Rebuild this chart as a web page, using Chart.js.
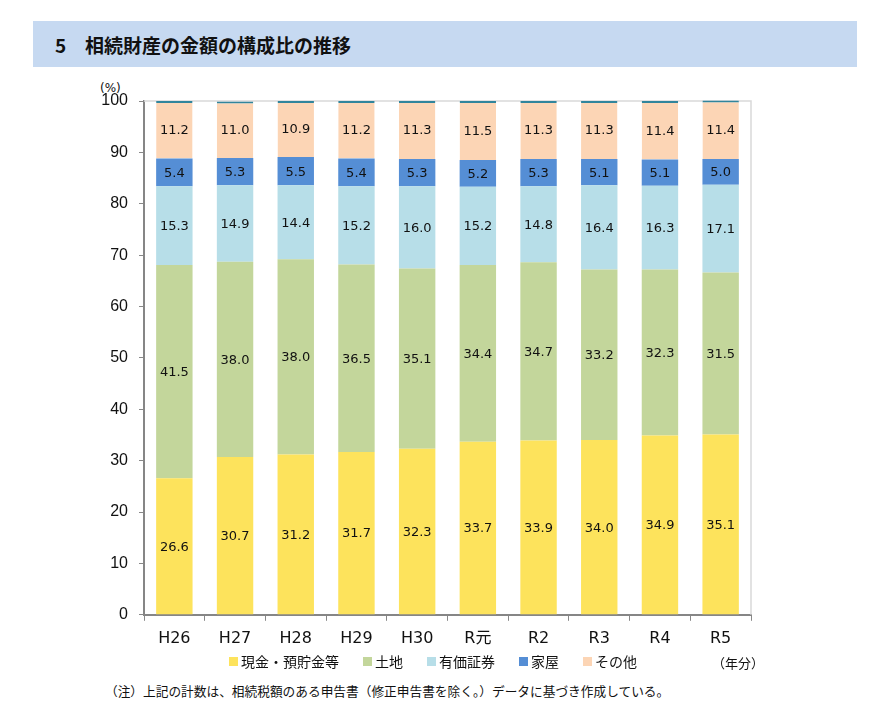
<!DOCTYPE html>
<html lang="ja">
<head>
<meta charset="utf-8">
<title>相続財産の金額の構成比の推移</title>
<script src="https://cdn.jsdelivr.net/npm/chart.js@4.4.1/dist/chart.umd.min.js"></script>
<style>
  html, body { margin: 0; padding: 0; background: #fff; }
  body { width: 871px; height: 725px; position: relative; overflow: hidden; font-family: "Noto Sans CJK JP", sans-serif; color: #111; }
  .bandeau { position: absolute; left: 33px; top: 21px; width: 824px; height: 46px; background: #c6d9f1; }
  .bandeau span { position: absolute; top: 10px; font-size: 19px; font-weight: bold; }
  #cadre { position: absolute; left: 0; top: 0; width: 871px; height: 660px; }
  .unite { position: absolute; left: 100px; top: 81px; font-size: 12px; font-family: "DejaVu Sans", sans-serif; }
  #legende { position: absolute; left: 229px; top: 651px; display: flex; font-size: 14px; line-height: 20px; }
  #legende div { display: flex; align-items: center; margin-right: 24px; }
  #legende i { display: inline-block; width: 9px; height: 9px; margin-right: 3px; }
  .annee { position: absolute; left: 712px; top: 653px; font-size: 13px; }
  .note { position: absolute; left: 105px; top: 681px; font-size: 12.7px; }
</style>
</head>
<body>
<div class="bandeau"><span style="left:22px">5</span><span style="left:52px">相続財産の金額の構成比の推移</span></div>
<div class="unite">(%)</div>
<div id="cadre"><canvas id="graphique"></canvas></div>
<div id="legende"></div>
<div class="annee">（年分）</div>
<div class="note">（注）上記の計数は、相続税額のある申告書（修正申告書を除く。）データに基づき作成している。</div>

<script>
// années (axe horizontal)
const annees = ["H26", "H27", "H28", "H29", "H30", "R元", "R2", "R3", "R4", "R5"];

// composition en %, du bas vers le haut de chaque barre
const especes = [26.6, 30.7, 31.2, 31.7, 32.3, 33.7, 33.9, 34.0, 34.9, 35.1];
const terrains = [41.5, 38.0, 38.0, 36.5, 35.1, 34.4, 34.7, 33.2, 32.3, 31.5];
const titres = [15.3, 14.9, 14.4, 15.2, 16.0, 15.2, 14.8, 16.4, 16.3, 17.1];
const maisons = [5.4, 5.3, 5.5, 5.4, 5.3, 5.2, 5.3, 5.1, 5.1, 5.0];
const autres = [11.2, 11.0, 10.9, 11.2, 11.3, 11.5, 11.3, 11.3, 11.4, 11.4];

const nomsSeries = ["現金・預貯金等", "土地", "有価証券", "家屋", "その他"];
const couleurs = ["#fde35c", "#c3d69b", "#b7dee8", "#558ed5", "#fcd5b5"];

// graduations de l'axe vertical
const graduations = [0, 10, 20, 30, 40, 50, 60, 70, 80, 90, 100];

Chart.defaults.font.family = '"Noto Sans CJK JP", sans-serif';
Chart.defaults.color = "#111";

// valeurs écrites au milieu de chaque segment
const etiquettesValeurs = {
  id: "etiquettesValeurs",
  afterDatasetsDraw(chart) {
    const ctx = chart.ctx;
    ctx.save();
    ctx.font = '13px "DejaVu Sans"';
    ctx.fillStyle = "#111";
    ctx.textAlign = "center";
    ctx.textBaseline = "middle";
    chart.data.datasets.forEach((ds, i) => {
      chart.getDatasetMeta(i).data.forEach((barre, j) => {
        const p = barre.getProps(["x", "y", "base"], true);
        ctx.fillText(ds.data[j].toFixed(1), p.x, (p.y + p.base) / 2 + 1);
      });
    });
    ctx.restore();
  }
};

// bord fin en haut et à droite de la zone de tracé
const bordZone = {
  id: "bordZone",
  beforeDatasetsDraw(chart) {
    const { ctx, chartArea: a } = chart;
    ctx.save();
    ctx.strokeStyle = "#d9d9d9";
    ctx.lineWidth = 1.5;
    ctx.beginPath();
    ctx.moveTo(a.left, a.top);
    ctx.lineTo(a.right, a.top);
    ctx.lineTo(a.right, a.bottom);
    ctx.stroke();
    ctx.restore();
  }
};

// légende en HTML, construite à partir des items du graphique
const legendeHtml = {
  id: "legendeHtml",
  afterUpdate(chart) {
    const boite = document.querySelector("#legende");
    boite.innerHTML = "";
    const items = chart.options.plugins.legend.labels.generateLabels(chart);
    items.forEach(item => {
      const el = document.createElement("div");
      el.innerHTML = `<i style="background:${item.fillStyle}"></i>${item.text}`;
      boite.appendChild(el);
    });
  }
};

const series = [especes, terrains, titres, maisons, autres];
const datasets = series.map((valeurs, i) => ({
  label: nomsSeries[i],
  data: valeurs,
  backgroundColor: couleurs[i],
  borderWidth: i === 4 ? { top: 2, right: 0, bottom: 0, left: 0 } : 0,
  borderColor: i === 4 ? "#31859c" : couleurs[i],
  borderSkipped: false,
  clip: false,
  categoryPercentage: 1,
  barPercentage: 0.6
}));

const config = {
  type: "bar",
  data: { labels: annees, datasets: datasets },
  options: {
    responsive: true,
    maintainAspectRatio: false,
    animation: false,
    layout: { padding: { left: 90, right: 120, top: 101, bottom: 4 } },
    scales: {
      x: {
        stacked: true,
        grid: { offset: true, drawOnChartArea: false, tickLength: 6, color: "#888" },
        border: { color: "#868686", width: 2 },
        ticks: { font: { family: '"DejaVu Sans", "Noto Sans CJK JP"', size: 16 }, padding: 8, color: "#111" }
      },
      y: {
        stacked: true,
        min: 0,
        max: 100,
        afterBuildTicks: (axe) => { axe.ticks = graduations.map(v => ({ value: v })); },
        afterFit: (axe) => { axe.width = 54; },
        grid: { drawOnChartArea: false, tickLength: 5, color: "#888" },
        border: { color: "#868686", width: 2 },
        ticks: { font: { family: '"Liberation Sans"', size: 16 }, padding: 11, color: "#111" }
      }
    },
    plugins: {
      tooltip: { enabled: false },
      legend: { display: false }
    }
  },
  plugins: [bordZone, etiquettesValeurs, legendeHtml]
};

const graphique = new Chart(document.querySelector("#graphique"), config);
</script>
</body>
</html>
